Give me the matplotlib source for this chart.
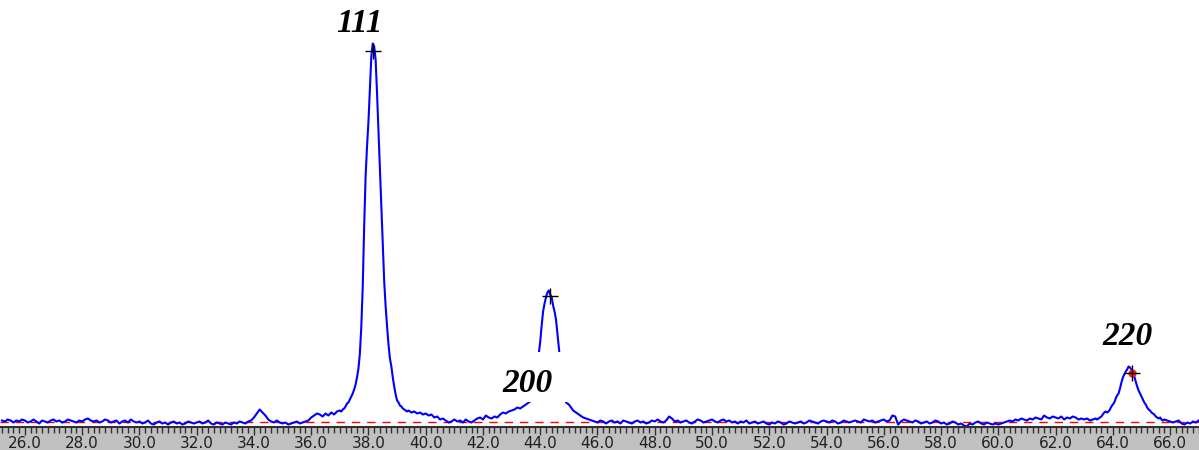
import numpy as np
import matplotlib as mplt
mplt.use("Agg")
import matplotlib.pyplot as plt
import matplotlib.patches as mpatches
from matplotlib.ticker import MultipleLocator, FormatStrFormatter

# intensity above the background line (arbitrary counts)
# background segments are sampled every 0.1 deg, peak windows every 0.05 deg
bg1_start, bg1_step = 25.2, 0.1
bg1_int = [
    1, 0, 2, 1, -1, 1, 0, 2,
    1, -1, 0, 2, 0, -2, 1, 0, -1, 1,
    2, 0, 1, -1, 0, 2, 1, 0, -1, 1,
    0, 2, 3, 1, 0, 1, -1, 0, 2, 1,
    -1, 0, 1, -2, 0, 1, -1, 2, 0, -1,
    0, -2, -1, 1, -2, -3, -1, 0, -2, -1,
    -3, -1, 0, -2, -1, -3, -2, 0, -1, -2,
    -1, 0, -2, -1, 1, -2, -3, -1, -2, -3,
    -1, -2, -3, -1, -2, 0, -1, -2, 0, 1,
    4, 8, 12, 9, 6, 2, 0, -1, 1, -1,
    -2, -1, -3, -2, -1, 0, -2, -1, 0, 1,
    4, 6, 8, 7, 5, 8, 6, 9, 7, 10,
]

pk111_start, pk111_step = 37.0, 0.05
pk111_int = [
    11, 10, 12, 13, 15, 18, 19, 22, 25, 28,
    32, 37, 44, 53, 68, 95, 135, 195, 245, 275,
    300, 333, 365, 378, 375, 362, 328, 290, 250, 215,
    178, 140, 115, 95, 77, 63, 55, 44, 35, 27,
    21, 19, 16, 15, 13, 12, 11, 10, 11,
]

bg2_start, bg2_step = 39.5, 0.1
bg2_int = [
    9, 10, 8, 9, 7,
    8, 6, 7, 4, 5, 2, 3, 1, -1, 0,
    2, 0, 1, -1, 2, 0, -1, 1, 3, 4,
    2, 6, 4, 3, 5, 4, 7, 9, 8, 10,
    11, 12, 14, 13, 15, 17,
]

pk200_start, pk200_step = 43.55, 0.05
pk200_int = [
    18, 19, 20, 23, 27, 34, 44, 56, 68, 80,
    96, 110, 118, 124, 129, 131, 127, 124, 116, 110,
    102, 88, 74, 58, 44, 33, 25, 19, 18, 17,
    15, 13, 11, 10,
]

bg3_start, bg3_step = 45.3, 0.1
bg3_int = [
    8, 6, 4, 3, 2, 1, 0,
    -1, 1, 0, -2, 0, 1, -1, 0, -2, 1,
    0, -1, -2, 0, 1, -1, 0, -2, -1, 1,
    0, 2, 0, -1, 1, 5, 3, 0, 1, -1,
    0, 1, -1, -2, 0, 2, 1, -1, 0, 1,
    2, 0, -1, 1, 2, 0, 1, -1, 0, -2,
    0, -1, 1, -2, -1, 0, -2, -1, 0, -2,
    -3, -1, -2, 0, -1, -3, -2, 0, -1, -2,
    -1, 0, -2, -1, 1, 0, -1, -2, 0, 1,
    0, -1, 1, 0, -2, -1, 1, 0, -1, 0,
    1, 0, -1, 2, 1, 0, 1, -1, 0, 1,
    2, 0, 1, 6, 5, -3, 0, 2, 1, 0,
    -1, 1, 0, -2, -1, 0, -2, -1, 1, 0,
    -2, -1, -3, -2, 0, -1, -3, -2, -4, -5,
    -2, -3, -1, 0, -2, -3, -1, -2, -3, -2,
    -3, -2, -1, 0, 1, 0, 2, 1, 3, 2,
    1, 3, 2, 4, 3, 2, 6, 4, 3, 5,
    4, 3, 5, 2, 4, 3, 5, 4, 2, 3,
    2, 3, 1, 2, 3,
]

pk220_start, pk220_step = 63.45, 0.05
pk220_int = [
    2, 3, 4, 5, 7, 9, 10, 9, 10, 12,
    15, 17, 19, 23, 26, 28, 33, 39, 44, 47,
    50, 52, 55, 54, 52, 47, 45, 40, 35, 31,
    28, 25, 22, 19, 17, 14, 12, 11, 9, 8,
    7, 5, 4, 3, 4, 2, 1, 2,
]

bg4_start, bg4_step = 65.9, 0.1
bg4_int = [1, 0, -1, 0, 1, -2, -3, -1, -2, 0, -1, 1]

# peak search results
peak_labels = ["111", "200", "220"]
peak_pos = [38.16, 44.34, 64.67]
peak_height = [371, 126, 48.5]
label_pos = [37.70, 43.54, 64.53]
label_height = [389.5, 29.5, 76.5]

segments = [
    (bg1_start, bg1_step, bg1_int),
    (pk111_start, pk111_step, pk111_int),
    (bg2_start, bg2_step, bg2_int),
    (pk200_start, pk200_step, pk200_int),
    (bg3_start, bg3_step, bg3_int),
    (pk220_start, pk220_step, pk220_int),
    (bg4_start, bg4_step, bg4_int),
]
two_theta = np.concatenate([s + st * np.arange(len(v)) for s, st, v in segments])
intensity = np.concatenate([np.array(v, dtype=float) for _, _, v in segments])

W, H = 1199, 450
fig = plt.figure(figsize=(W / 100, H / 100), dpi=100)
band = 23 / H
fig.patches.append(mpatches.Rectangle((0, 0), 1, band, transform=fig.transFigure,
                                      facecolor="#c0c0c0", edgecolor="none", zorder=-5))
ax = fig.add_axes([0, band, 1, 1 - band])
ax.set_zorder(1)

ax.plot(two_theta, intensity, color="#0000ff", lw=1.5, zorder=2)
ax.axhline(0, color="#ff0000", lw=1.0, dashes=(6, 5), zorder=1)

# white box behind the 200 label hides part of the peak
ax.add_patch(mpatches.Rectangle((42.15, 19.5), 3.3, 50, facecolor="white",
                                edgecolor="none", zorder=3))

ax.plot(peak_pos[2], peak_height[2], "o", color="#ff2020", ms=5, zorder=4)
ax.plot(peak_pos, peak_height, "+", color="black", ms=11, mew=1.0, zorder=5)

for lab, x, y in zip(peak_labels, label_pos, label_height):
    ax.text(x, y, lab, ha="center", va="baseline", fontsize=24,
            family="Liberation Serif", weight="bold", style="italic", zorder=6)

ax.set_xlim(25.13, 67.01)
ax.set_ylim(-5.5, 421.5)
for side in ["top", "left", "right"]:
    ax.spines[side].set_visible(False)
ax.spines["bottom"].set_color("#303030")
ax.spines["bottom"].set_linewidth(1.5)
ax.set_yticks([])
ax.xaxis.set_major_locator(MultipleLocator(2.0))
ax.xaxis.set_minor_locator(MultipleLocator(0.2))
ax.xaxis.set_major_formatter(FormatStrFormatter("%.1f"))
ax.tick_params(axis="x", which="major", direction="out", length=6, width=1,
               color="#303030", labelsize=11, labelcolor="#202020", pad=0.5)
ax.tick_params(axis="x", which="minor", direction="out", length=4, width=1,
               color="#303030")
for t in ax.get_xticklabels():
    t.set_family("DejaVu Sans")

fig.savefig("out.png", dpi=100)
